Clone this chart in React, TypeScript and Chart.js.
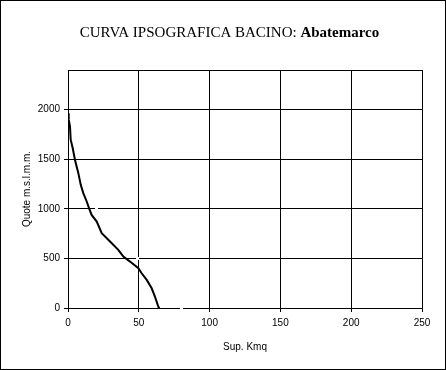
import React, { useEffect, useRef } from "react";
import { Chart, registerables } from "chart.js";

Chart.register(...registerables);

const titleRegular = "CURVA IPSOGRAFICA BACINO: ";
const titleBold = "Abatemarco";
const xTitle = "Sup. Kmq";
const yTitle = "Quote m.s.l.m.m.";

const areaKmq = [0, 0.5, 1.4, 1.9, 3.3, 4.9, 7.3, 9.0, 10.8, 13.2, 15.1, 16.7, 20.3, 23.8, 29.7, 35.5, 39.1, 43.8, 49.7, 52.0, 55.6, 59.1, 61.4, 63.8, 64.2];
const quota = [1965, 1900, 1831, 1697, 1613, 1495, 1360, 1242, 1158, 1074, 997, 939, 872, 754, 670, 586, 518, 468, 401, 350, 283, 199, 114, 13, 0];

const gapX = [19.5, 49, 80];
const gapY = [1000, 505, 0];

const xTicks = [0, 50, 100, 150, 200, 250];
const yTicks = [0, 500, 1000, 1500, 2000];

export default function App() {
  const ref = useRef<HTMLCanvasElement>(null);
  useEffect(() => {
    document.body.style.margin = "0";
    const canvas = ref.current!;
    const decor = {
      id: "decor",
      afterDraw(chart: any) {
        const ctx = chart.ctx;
        const a = chart.chartArea;
        ctx.save();
        ctx.strokeStyle = "#000";
        ctx.lineWidth = 1;
        ctx.strokeRect(a.left + 0.5, a.top + 0.5, Math.round(a.right - a.left), Math.round(a.bottom - a.top));
        ctx.strokeRect(0.5, 0.5, 445, 369);
        ctx.fillStyle = "#000";
        ctx.textBaseline = "alphabetic";
        ctx.textAlign = "left";
        const fr = "15px 'Liberation Serif'";
        const fb = "bold 15px 'Liberation Serif'";
        ctx.font = fr;
        const w1 = ctx.measureText(titleRegular).width;
        ctx.font = fb;
        const w2 = ctx.measureText(titleBold).width;
        const x0 = 229.5 - (w1 + w2) / 2;
        ctx.font = fr;
        ctx.fillText(titleRegular, x0, 37);
        ctx.font = fb;
        ctx.fillText(titleBold, x0 + w1, 37);
        // white gaps in the grid
        ctx.fillStyle = "#fff";
        const xs = chart.scales.x;
        const ys = chart.scales.y;
        gapX.forEach((gx, i) => {
          const px = Math.round(xs.getPixelForValue(gx));
          const py = Math.round(ys.getPixelForValue(gapY[i]));
          ctx.fillRect(px - 1, py - 1, 3, 3);
        });
        ctx.restore();
      },
    };
    const fmt = (v: any) => String(v);
    const chart = new Chart(canvas, {
      type: "scatter",
      data: {
        datasets: [
          {
            data: areaKmq.map((x, i) => ({ x, y: quota[i] })),
            showLine: true,
            borderColor: "#000",
            borderWidth: 2,
            pointRadius: 0,
            tension: 0,
          },
        ],
      },
      options: {
        animation: false,
        responsive: false,
        devicePixelRatio: 1,
        layout: { padding: { top: 70, right: 24, left: 0, bottom: 0 } },
        plugins: { legend: { display: false }, tooltip: { enabled: false }, title: { display: false } },
        scales: {
          x: {
            type: "linear",
            min: 0,
            max: 250,
            afterBuildTicks: (axis: any) => {
              axis.ticks = xTicks.map((v) => ({ value: v }));
            },
            afterFit: (axis: any) => {
              axis.height = 62;
            },
            ticks: { color: "#000", font: { family: "'Liberation Sans'", size: 10 }, padding: 5, maxRotation: 0, callback: fmt },
            grid: { color: "#000", lineWidth: 1, tickLength: 4, drawTicks: true },
            border: { display: true, color: "#000", width: 1 },
            title: {
              display: true,
              text: xTitle,
              color: "#000",
              font: { family: "'Liberation Sans'", size: 10 },
              padding: { top: 0, bottom: 17 },
            },
          },
          y: {
            type: "linear",
            min: 0,
            max: 2400,
            afterBuildTicks: (axis: any) => {
              axis.ticks = yTicks.map((v) => ({ value: v }));
            },
            afterFit: (axis: any) => {
              axis.width = 68;
            },
            ticks: { color: "#000", font: { family: "'Liberation Sans'", size: 10 }, padding: 4, callback: fmt },
            grid: { color: "#000", lineWidth: 1, tickLength: 4, drawTicks: true },
            border: { display: true, color: "#000", width: 1 },
            title: {
              display: true,
              text: yTitle,
              color: "#000",
              font: { family: "'Liberation Sans'", size: 10 },
              padding: { top: 21, bottom: 0 },
            },
          },
        },
      },
      plugins: [decor],
    });
    return () => chart.destroy();
  }, []);
  return (
    <div style={{ width: 446, height: 370, background: "#fff" }}>
      <canvas ref={ref} width={446} height={370} style={{ display: "block" }} />
    </div>
  );
}
